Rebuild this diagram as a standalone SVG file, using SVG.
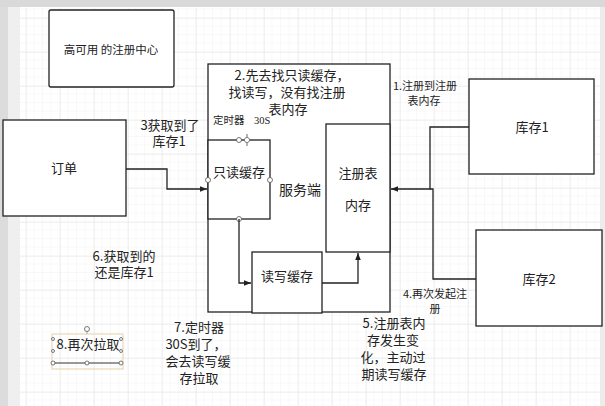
<svg xmlns="http://www.w3.org/2000/svg" width="605" height="406" viewBox="0 0 605 406">
<style>
.box{fill:#fff;stroke:#222;stroke-width:1.3}
.t{font-family:"Noto Sans CJK SC","Noto Sans",sans-serif;fill:#222;text-anchor:middle}
.st{text-anchor:start}
.s13{font-size:13px}
.s11{font-size:11px}
.line{fill:none;stroke:#222;stroke-width:1.3}
.h{fill:#fff;stroke:#555;stroke-width:0.8}
</style>
<defs>
<pattern id="minor" x="26" y="18" width="8.5" height="8.5" patternUnits="userSpaceOnUse">
<path d="M8.5 0V8.5M0 8.5H8.5" fill="none" stroke="#f2f2f2" stroke-width="1"/>
</pattern>
<pattern id="major" x="26" y="18" width="34" height="34" patternUnits="userSpaceOnUse">
<path d="M0 0V34M0 0H34" fill="none" stroke="#e6e6e6" stroke-width="1"/>
</pattern>
<marker id="arr" viewBox="0 0 10 10" refX="10" refY="5" markerWidth="7" markerHeight="7" orient="auto" markerUnits="userSpaceOnUse">
<path d="M0 1L10 5L0 9z" fill="#222"/>
</marker>
</defs>
<rect width="605" height="406" fill="#fff"/>
<rect x="20" y="8" width="580" height="398" fill="url(#minor)"/>
<rect x="20" y="8" width="580" height="398" fill="url(#major)"/>
<rect x="0" y="0" width="605" height="7" fill="#d9d9d9"/>
<rect x="0" y="7" width="8" height="399" fill="#dcdcdc"/>
<rect x="8" y="7" width="12" height="399" fill="#efefef"/>
<rect x="600" y="7" width="5" height="399" fill="#ececec"/>

<g id="title">
<rect class="box" x="49" y="10" width="125" height="77" rx="2"/>
<text class="t" x="111" y="54" font-size="11.5">高可用 的注册中心</text>
</g>

<g id="order">
<rect class="box" x="3" y="120" width="123" height="96"/>
<text class="t s13" x="64" y="173">订单</text>
</g>

<g id="server">
<rect class="box" x="208" y="64" width="182" height="248"/>
<text class="t s13" x="292" y="80">2.先去找只读缓存，</text>
<text class="t s13" x="287" y="97">找读写，没有找注册</text>
<text class="t s13" x="288" y="114">表内存</text>
<text class="t st" x="213" y="124" font-size="10.5">定时器</text>
<text x="254" y="124" font-size="10.5" font-family="Liberation Serif,serif" fill="#222">30S</text>
<text class="t" x="300" y="195" font-size="14">服务端</text>
</g>

<g id="readonly">
<rect class="box" x="208" y="140" width="62" height="79"/>
<text class="t s13" x="239" y="177">只读缓存</text>
<circle class="h" cx="239" cy="140" r="2.5"/>
<circle class="h" cx="208" cy="180" r="2.5"/>
<circle class="h" cx="270" cy="180" r="2.5"/>
<circle class="h" cx="239" cy="219" r="2.5"/>
<path d="M247 134V146M241 140H253" stroke="#666" stroke-width="1" fill="none"/>
<circle cx="247" cy="140" r="2.6" fill="#fff" stroke="#666" stroke-width="0.8"/>
</g>

<g id="registry">
<rect class="box" x="326" y="124" width="64" height="128"/>
<text class="t s13" x="358" y="178">注册表</text>
<text class="t s13" x="358" y="210">内存</text>
</g>

<g id="rwcache">
<rect class="box" x="252" y="252" width="70" height="61"/>
<text class="t s13" x="287" y="281">读写缓存</text>
</g>

<g id="stock1">
<rect class="box" x="469" y="79" width="125" height="95"/>
<text class="t s13" x="532" y="132">库存1</text>
</g>

<g id="stock2">
<rect class="box" x="476" y="230" width="126" height="96"/>
<text class="t s13" x="539" y="284">库存2</text>
</g>

<g id="connectors">
<path class="line" d="M126 169H167V189H207" marker-end="url(#arr)"/>
<path class="line" d="M239 219V283H251" marker-end="url(#arr)"/>
<path class="line" d="M322 283H358V253" marker-end="url(#arr)"/>
<path class="line" d="M469 127H430V189H391" marker-end="url(#arr)"/>
<path class="line" d="M476 279H433V189H430"/>
</g>

<g id="labels">
<text class="t s11" x="425" y="90">1.注册到注册</text>
<text class="t s11" x="424" y="105">表内存</text>
<text class="t s13" x="170" y="130">3获取到了</text>
<text class="t s13" x="169" y="146">库存1</text>
<text class="t s13" x="124" y="261">6.获取到的</text>
<text class="t s13" x="124" y="277">还是库存1</text>
<text class="t s11" x="435" y="298">4.再次发起注</text>
<text class="t s11" x="435" y="313">册</text>
<text class="t s13" x="199" y="332">7.定时器</text>
<text class="t s13" x="196" y="349">30S到了，</text>
<text class="t s13" x="198" y="366">会去读写缓</text>
<text class="t s13" x="199" y="383">存拉取</text>
<text class="t s13" x="394" y="328">5.注册表内</text>
<text class="t s13" x="393" y="345">存发生变</text>
<text class="t s13" x="393" y="362">化，主动过</text>
<text class="t s13" x="394" y="379">期读写缓存</text>
</g>

<g id="pull">
<rect x="52" y="334" width="71" height="35" fill="none" stroke="#e6cfa8" stroke-width="1"/>
<text class="t s13" x="88" y="349">8.再次拉取</text>
<line x1="53" y1="363" x2="121" y2="363" stroke="#333" stroke-width="1"/>
<line x1="87" y1="329" x2="87" y2="334" stroke="#999" stroke-width="0.8"/>
<circle class="h" cx="87" cy="329" r="2.5"/>
<circle class="h" cx="53" cy="363" r="2"/>
<circle class="h" cx="87" cy="363" r="2"/>
<circle class="h" cx="121" cy="363" r="2"/>
<circle class="h" cx="53" cy="339" r="1.5"/>
<circle class="h" cx="53" cy="351" r="1.5"/>
<circle class="h" cx="121" cy="339" r="1.5"/>
<circle class="h" cx="121" cy="351" r="1.5"/>
</g>
</svg>
